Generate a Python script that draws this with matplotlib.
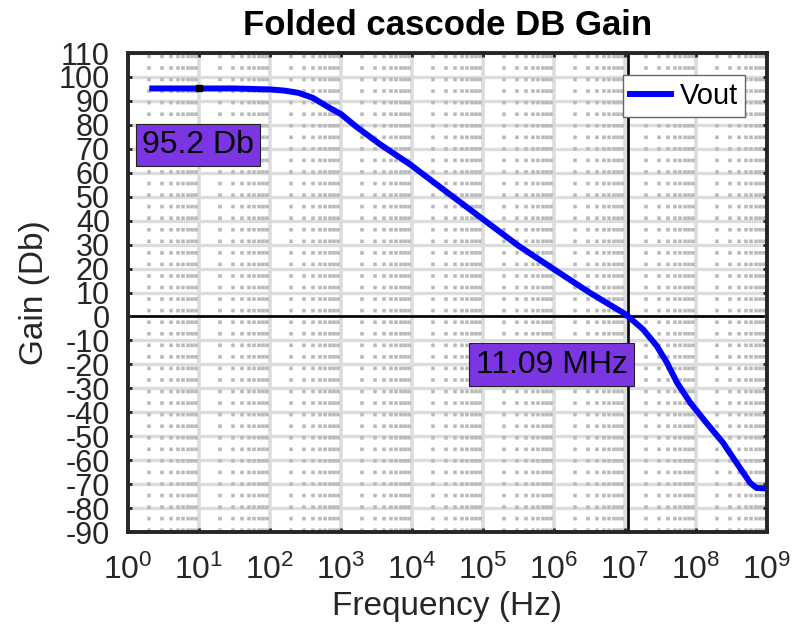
import numpy as np
import matplotlib
matplotlib.use("Agg")
import matplotlib.pyplot as plt
from matplotlib.ticker import FixedLocator, FuncFormatter, NullFormatter

plt.rcParams['font.family'] = ['Liberation Sans', 'DejaVu Sans']
plt.rcParams['axes.unicode_minus'] = False

# data
freq_hz = [2.2, 10, 31.6, 100, 160, 250, 400, 700, 1e3, 1.6e3, 3.5e3, 9.3e3,
           3.2e4, 1e5, 3.2e5, 1e6, 3.2e6, 1.05e7, 1.109e7, 1.8e7, 2.8e7,
           3.9e7, 5.4e7, 8.3e7, 1.4e8, 2.4e8, 3.7e8, 5.8e8, 7.1e8, 9.3e8]
gain_db = [95.2, 95.2, 95.2, 94.8, 94.3, 93.4, 91.3, 87.0, 84.5, 79.5, 72.0, 63.6,
           51.6, 40.6, 29.4, 19.7, 9.9, 0.7, 0.0, -5.4, -12.3,
           -19.3, -27.6, -36.0, -44.4, -52.7, -61.0, -69.5, -71.6, -71.8]

dc_gain = 95.2          # dB, data tip at 10 Hz
dc_tip_freq = 10
f_unity = 11.09e6       # Hz, 0 dB crossing

x_decades = list(range(0, 10))
y_ticks = list(range(-90, 111, 10))

fig = plt.figure(figsize=(7.92, 6.35), dpi=100)
ax = fig.add_axes([0.1616, 0.1622, 0.8068, 0.7543])

ax.set_xscale('log')
ax.set_xlim(10 ** x_decades[0], 10 ** x_decades[-1])
ax.set_ylim(y_ticks[0], y_ticks[-1])

# grid (MATLAB style: light solid majors, dotted minors)
minor_x = [m * 10 ** d for d in x_decades[:-1] for m in range(2, 10)]
ax.xaxis.set_major_locator(FixedLocator([10 ** d for d in x_decades]))
ax.xaxis.set_minor_locator(FixedLocator(minor_x))
ax.xaxis.set_minor_formatter(NullFormatter())
ax.xaxis.set_major_formatter(FuncFormatter(lambda v, p: r'$\mathregular{10^{%d}}$' % round(np.log10(v))))
ax.yaxis.set_major_locator(FixedLocator(y_ticks))

for d in x_decades:
    ax.axvline(10 ** d, color='#dcdcdc', lw=2.6, zorder=0.5)
for yv in y_ticks:
    ax.axhline(yv, color='#dcdcdc', lw=2.4, zorder=0.5)
for xv in minor_x:
    ax.axvline(xv, color='#bababa', lw=2.6, linestyle=(0, (1.0, 2.2)), zorder=0.6)

# reference lines
ax.axhline(0, color='black', lw=1.9, zorder=1)
ax.axvline(f_unity, color='black', lw=1.9, zorder=1)

ax.plot(freq_hz, gain_db, color='#0000ff', lw=4.3, label='Vout', zorder=2)
ax.plot([dc_tip_freq], [dc_gain], 's', color='black', ms=3.8, zorder=3)

# data tip labels
box = dict(boxstyle='square,pad=0.2', facecolor='#7b35e2', edgecolor='#222222', lw=0.8)
ax.text(1.58, 71.6, f'{dc_gain} Db', fontsize=23, va='center', ha='left', bbox=box, zorder=4)
ax.text(10 ** 4.9, -20.2, f'{f_unity / 1e6:.2f} MHz', fontsize=23, va='center', ha='left', bbox=box, zorder=4)

for s in ax.spines.values():
    s.set_linewidth(2.8)
    s.set_color('#262626')
    s.set_zorder(5)

ax.tick_params(axis='both', which='major', direction='in', length=3, width=2,
               top=True, right=True, colors='#262626')
ax.tick_params(axis='y', which='major', pad=13, labelsize=22)
ax.tick_params(axis='x', which='major', pad=16, labelsize=23)
ax.tick_params(axis='both', which='minor', length=0)
for lab in ax.get_xticklabels() + ax.get_yticklabels():
    lab.set_color('#262626')

ax.set_xlabel('Frequency (Hz)', fontsize=24, color='#262626', labelpad=4)
ax.set_ylabel('Gain (Db)', fontsize=24, color='#262626', labelpad=6)
ax.set_title('Folded cascode DB Gain', fontsize=25, fontweight='bold', pad=13)

leg = ax.legend(loc='upper right', fontsize=21, fancybox=False, framealpha=1,
                edgecolor='#666666', borderaxespad=0.75, handlelength=1.4,
                handletextpad=0.3, borderpad=0.25)
leg.get_frame().set_linewidth(1.0)
leg.set_zorder(6)

fig.savefig('out.png', dpi=100)
